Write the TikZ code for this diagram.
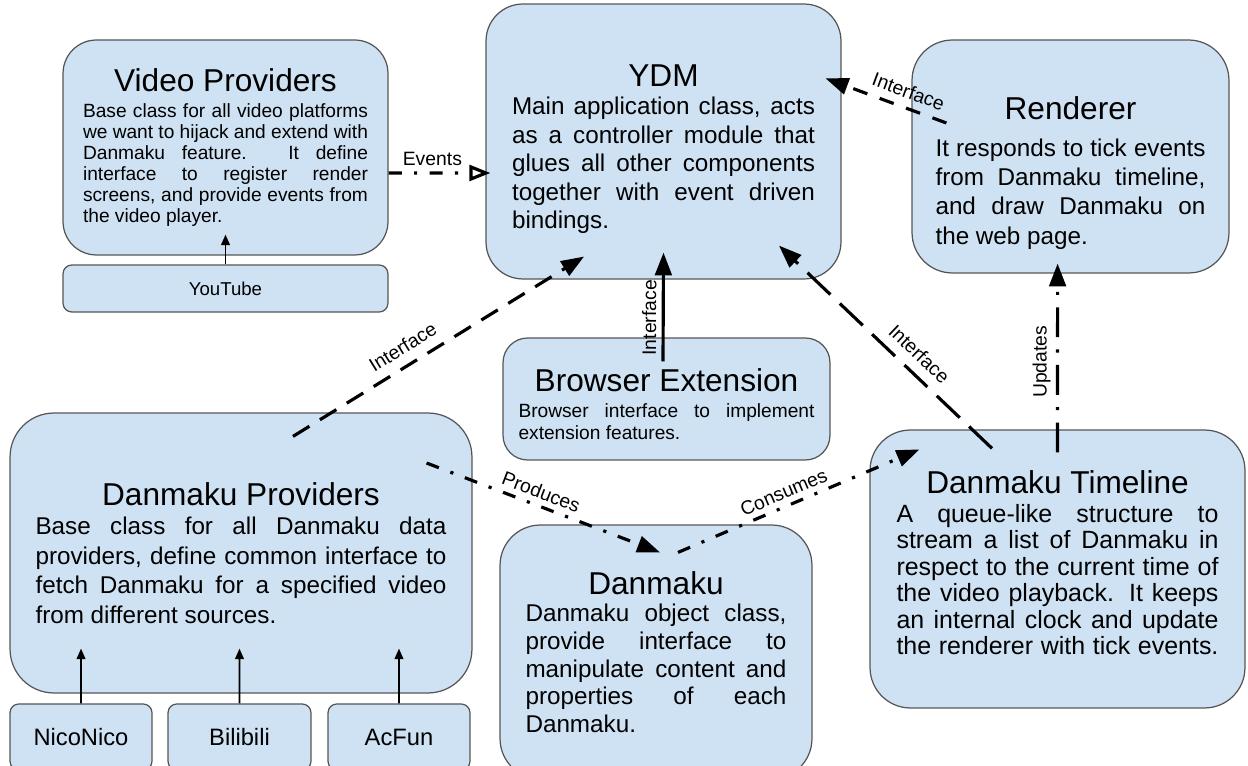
\documentclass[tikz,border=0pt]{standalone}
\usepackage{fontspec}
\setmainfont{Liberation Sans}
\usetikzlibrary{arrows.meta,positioning}

\definecolor{boxblue}{RGB}{207,226,243}
\definecolor{boxline}{RGB}{85,85,85}

% text lines inside the modules: justified, ragged last line, centred heading
\newcommand{\jline}[1]{\hbox to\hsize{#1}}
\newcommand{\lline}[1]{\hbox to\hsize{#1\hfil}}
\newcommand{\heading}[2]{\hbox to\hsize{\hfil\fontsize{18pt}{20pt}\selectfont #1\hfil}\vskip #2}

\tikzset{
  module/.style={draw=boxline, fill=boxblue, line width=0.7pt, rounded corners=#1, inner sep=0pt},
  module/.default=20pt,
  plugin/.style={module=5pt, font=\fontsize{13.5pt}{15pt}\selectfont},
  feed/.style={-{Triangle[length=6pt,width=5pt]}, line width=0.9pt},
  link/.style={-{Triangle[length=13pt,width=9.5pt]}, line width=1.8pt},
  dashdot/.style={dash pattern=on 7.5pt off 7pt on 1.8pt off 7pt},
  elabel/.style={font=\fontsize{11pt}{13pt}\selectfont, sloped, above, inner sep=3pt}
}

\begin{document}
\begin{tikzpicture}[x=0.02cm, y=-0.02cm]
  \useasboundingbox (0,0) rectangle (1248,766);

  %--- top row ---
  \node[module=19pt, minimum width=6.5cm, minimum height=4.3cm] (vp) at (225.5,147.5) {\vbox{\hsize=5.7cm\fontsize{10.9pt}{11.9pt}\selectfont
    \heading{Video Providers}{3pt}
    \jline{Base class for all video platforms}
    \jline{we want to hijack and extend with}
    \jline{Danmaku feature. It define}
    \jline{interface to register render}
    \jline{screens, and provide events from}
    \lline{the video player.}}};
  \node[module=5pt, minimum width=6.5cm, minimum height=0.94cm, font=\fontsize{10.6pt}{12pt}\selectfont] (yt) at (225.5,288.5) {YouTube};

  \node[module=21pt, minimum width=7.1cm, minimum height=5.5cm] (ydm) at (663.5,141.5) {\vbox{\hsize=6.06cm\fontsize{13.8pt}{16.2pt}\selectfont
    \vskip 8.5pt
    \heading{YDM}{0pt}
    \jline{Main application class, acts}
    \jline{as a controller module that}
    \jline{glues all other components}
    \jline{together with event driven}
    \lline{bindings.}}};

  \node[module=23pt, minimum width=6.34cm, minimum height=4.66cm] (rnd) at (1070.5,156.5) {\vbox{\hsize=5.4cm\fontsize{13.8pt}{16.7pt}\selectfont
    \vskip 19pt
    \heading{Renderer}{4pt}
    \jline{It responds to tick events}
    \jline{from Danmaku timeline,}
    \jline{and draw Danmaku on}
    \lline{the web page.}}};

  %--- middle ---
  \node[module=14pt, minimum width=6.54cm, minimum height=2.44cm] (be) at (666.5,399) {\vbox{\hsize=5.92cm\fontsize{10.9pt}{12.5pt}\selectfont
    \vskip 6pt
    \heading{Browser Extension}{2pt}
    \jline{Browser interface to implement}
    \lline{extension features.}}};

  %--- bottom row ---
  \node[module=25pt, minimum width=9.24cm, minimum height=5.6cm] (dp) at (241,553) {\vbox{\hsize=8.22cm\fontsize{13.8pt}{16.8pt}\selectfont
    \heading{Danmaku Providers}{0pt}
    \jline{Base class for all Danmaku data}
    \jline{providers, define common interface to}
    \jline{fetch Danmaku for a specified video}
    \lline{from different sources.}}};
  \node[plugin, minimum width=2.84cm, minimum height=1.32cm] (nico) at (81,737) {NicoNico};
  \node[plugin, minimum width=2.86cm, minimum height=1.32cm] (bili) at (239.5,737) {Bilibili};
  \node[plugin, minimum width=2.84cm, minimum height=1.32cm] (acfun) at (399,737) {AcFun};

  \node[module=23pt, minimum width=6.24cm, minimum height=5.08cm] (dm) at (656,652) {\vbox{\hsize=5.22cm\fontsize{13.8pt}{15.7pt}\selectfont
    \heading{Danmaku}{0pt}
    \jline{Danmaku object class,}
    \jline{provide interface to}
    \jline{manipulate content and}
    \jline{properties of each}
    \lline{Danmaku.}}};

  \node[module=23pt, minimum width=7.5cm, minimum height=5.56cm] (dt) at (1057.5,569) {\vbox{\hsize=6.44cm\fontsize{14.2pt}{15.1pt}\selectfont
    \heading{Danmaku Timeline}{1pt}
    \jline{A queue-like structure to}
    \jline{stream a list of Danmaku in}
    \jline{respect to the current time of}
    \jline{the video playback. It keeps}
    \jline{an internal clock and update}
    \jline{the renderer with tick events.}
    \vskip 7pt}};

  %--- connectors ---
  \draw[feed] (yt.north) -- ([yshift=0.42cm]vp.south);
  \foreach \src/\dx in {nico/-3.2cm, bili/-0.03cm, acfun/3.16cm}
    \draw[feed] (\src.north) -- ([xshift=\dx,yshift=0.9cm]dp.south);

  \draw[-{Triangle[open,length=12pt,width=9pt]}, line width=1.8pt, dashdot] ([yshift=-0.51cm]vp.east) -- ([xshift=0.1cm,yshift=-0.63cm]ydm.west)
    node[elabel, pos=0.43] (lblEvents) {Events};
  \draw[link] ([xshift=-0.07cm,yshift=-0.48cm]be.north) -- ([yshift=0.54cm]ydm.south)
    node[elabel, pos=0.4] (lblBrowser) {Interface};
  \draw[link, dash pattern=on 11pt off 7pt] ([xshift=1.04cm,yshift=-0.48cm]dp.north) -- ([xshift=-1.59cm,yshift=0.46cm]ydm.south)
    node[elabel, pos=0.41, inner sep=5.5pt] (lblSource) {Interface};
  \draw[link, dash pattern=on 18pt off 7.4pt] ([xshift=-1.31cm,yshift=-0.38cm]dt.north) -- ([xshift=2.31cm,yshift=0.68cm]ydm.south)
    node[elabel, pos=0.4, inner sep=5.5pt] (lblTimeline) {Interface};
  \draw[link, dash pattern=on 8.5pt off 7.5pt] ([xshift=0.7cm,yshift=0.67cm]rnd.west) -- ([xshift=-0.32cm,yshift=-1.5cm]ydm.north east)
    node[elabel, pos=0.36, inner sep=4.5pt] (lblRenderer) {Interface};
  \draw[link, dash pattern=on 17pt off 7pt on 1.8pt off 7pt] ([yshift=-0.46cm]dt.north) -- ([xshift=-0.258cm,yshift=0.2cm]rnd.south)
    node[elabel, pos=0.48] (lblUpdates) {Updates};
  \draw[link, dashdot] ([xshift=-0.92cm,yshift=1.8cm]dp.east) -- ([xshift=0.08cm,yshift=-0.56cm]dm.north)
    node[elabel, pos=0.47] (lblProduces) {Produces};
  \draw[link, dashdot] ([xshift=0.44cm,yshift=-0.56cm]dm.north) -- ([xshift=1cm,yshift=-0.4cm]dt.north west)
    node[elabel, pos=0.46] (lblConsumes) {Consumes};
\end{tikzpicture}
\end{document}
